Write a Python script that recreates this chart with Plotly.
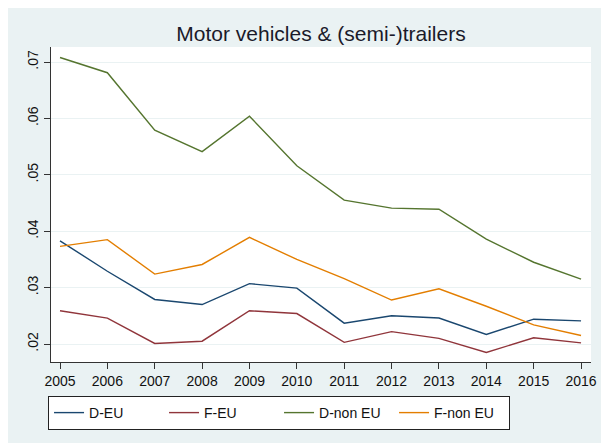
import plotly.graph_objects as go

years = [2005, 2006, 2007, 2008, 2009, 2010, 2011, 2012, 2013, 2014, 2015, 2016]
d_eu = [0.0383, 0.0329, 0.0279, 0.0270, 0.0307, 0.0299, 0.0237, 0.0250, 0.0246, 0.0217, 0.0244, 0.0241]
f_eu = [0.0259, 0.0246, 0.0201, 0.0205, 0.0259, 0.0254, 0.0203, 0.0222, 0.0210, 0.0185, 0.0211, 0.0202]
d_non_eu = [0.0708, 0.0681, 0.0579, 0.0541, 0.0604, 0.0516, 0.0455, 0.0441, 0.0439, 0.0386, 0.0345, 0.0315]
f_non_eu = [0.0373, 0.0385, 0.0324, 0.0341, 0.0389, 0.0350, 0.0316, 0.0278, 0.0298, 0.0267, 0.0234, 0.0215]

series_names = ["D-EU", "F-EU", "D-non EU", "F-non EU"]
series_values = [d_eu, f_eu, d_non_eu, f_non_eu]
series_colors = ["#1a476f", "#90353b", "#55752f", "#e37e00"]

y_tickvals = [0.02, 0.03, 0.04, 0.05, 0.06, 0.07]
y_ticktext = [".02", ".03", ".04", ".05", ".06", ".07"]

BG = "#EAF2F3"
FONT = "Liberation Sans, Arial, sans-serif"

fig = go.Figure()
for name, vals, col in zip(series_names, series_values, series_colors):
    fig.add_trace(go.Scatter(x=years, y=vals, name=name, mode="lines",
                             line=dict(color=col, width=1.4)))

# page body adds an 8px margin, so the figure is 8px smaller than the window
W, H = 601, 435
L, R, T, B = 43, 12, 39, 81
pw, ph = W - L - R, H - T - B

fig.update_layout(
    width=W, height=H,
    margin=dict(l=L, r=R, t=T, b=B),
    paper_bgcolor=BG,
    plot_bgcolor="white",
    font=dict(family=FONT, size=14, color="#111111"),
    title=dict(text="Motor vehicles & (semi-)trailers", x=0.5, xref="paper",
               xanchor="center", y=1 - 26 / H, yanchor="middle",
               font=dict(size=21, color="#1a1a2a")),
    xaxis=dict(range=[2004.81, 2016.21], tickvals=years, ticks="outside",
               ticklen=6, tickcolor="#333", showgrid=False, zeroline=False,
               showline=True, linecolor="#333", linewidth=1,
               tickfont=dict(size=14)),
    yaxis=dict(range=[0.01681, 0.07266], tickvals=y_tickvals, ticktext=y_ticktext,
               tickangle=-90, ticks="outside", ticklen=6, tickcolor="#333",
               showgrid=True, gridcolor=BG, gridwidth=1, zeroline=False,
               showline=True, linecolor="#333", linewidth=1,
               tickfont=dict(size=14)),
    legend=dict(orientation="h", x=(40 - L) / pw, xanchor="left",
                y=-(388 - (T + ph)) / ph, yanchor="top",
                bgcolor="white", bordercolor="#222", borderwidth=1,
                entrywidth=70, entrywidthmode="pixels",
                font=dict(size=14)),
    showlegend=True,
)

fig.write_html("out.html")
